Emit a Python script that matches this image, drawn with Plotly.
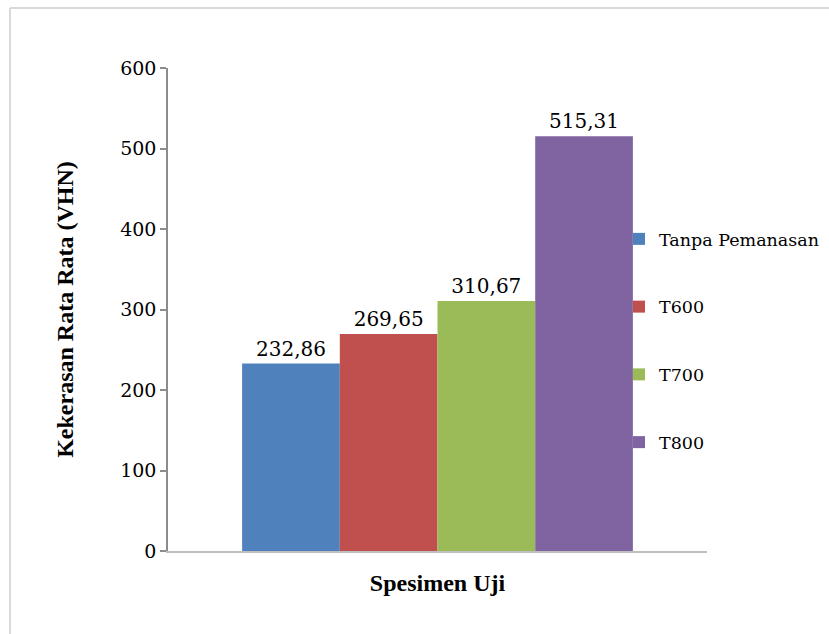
import plotly.graph_objects as go

category = ["Spesimen Uji"]
series_names = ["Tanpa Pemanasan", "T600", "T700", "T800"]
series_values = [232.86, 269.65, 310.67, 515.31]
value_labels = ["232,86", "269,65", "310,67", "515,31"]
colors = ["#4F81BD", "#C0504D", "#9BBB59", "#8064A2"]
y_ticks = [0, 100, 200, 300, 400, 500, 600]

FONT = "Liberation Serif"
FONT_REG = "DejaVu Serif"

fig = go.Figure()
for i, (name, val, lab, col) in enumerate(zip(series_names, series_values, value_labels, colors)):
    fig.add_trace(go.Bar(
        x=[" "], y=[val], name=name,
        marker=dict(color=col, line=dict(width=0)),
        text=[lab], textposition="outside", cliponaxis=False,
        textfont=dict(family=FONT_REG, size=20, color="#000000"),
        legendgroup=f"g{i}",
    ))

L, R, T, B = 168, 829 - 707, 68, 634 - 551
W, H = 829, 634
pw, ph = W - L - R, H - T - B

def px_x(px):
    return (px - L) / pw

def px_y(py):
    return (H - B - py) / ph

fig.update_layout(
    width=W, height=H,
    margin=dict(l=L, r=R, t=T, b=B, autoexpand=False),
    paper_bgcolor="white", plot_bgcolor="white",
    barmode="group", bargap=0.275, bargroupgap=0,
    font=dict(family=FONT_REG, color="#000000"),
    showlegend=True,
    legend=dict(
        x=px_x(619), y=px_y(221), xanchor="left", yanchor="top",
        font=dict(family=FONT_REG, size=17.5, color="#000000"),
        traceorder="grouped", tracegroupgap=42,
        bgcolor="rgba(0,0,0,0)", itemwidth=30,
    ),
    xaxis=dict(
        showticklabels=False, ticks="", showgrid=False,
        showline=True, linecolor="#BFBFBF", linewidth=1.5,
        title=dict(text="<b>Spesimen Uji</b>", font=dict(family=FONT, size=24), standoff=22),
        automargin=False,
    ),
    yaxis=dict(
        range=[0, 600], tickvals=y_ticks, ticktext=[str(v) for v in y_ticks],
        showgrid=False, zeroline=False,
        showline=True, linecolor="#8C8C8C", linewidth=1.5,
        ticks="outside", ticklen=6, tickcolor="#8C8C8C", tickwidth=1.5,
        tickfont=dict(family=FONT_REG, size=19, color="#000000"),
        title=dict(text="<b>Kekerasan Rata Rata (VHN)</b>", font=dict(family=FONT, size=24), standoff=40),
        automargin=False,
    ),
    shapes=[
        dict(type="line", xref="paper", yref="paper", x0=px_x(10), x1=px_x(840), y0=px_y(8), y1=px_y(8),
             line=dict(color="#D9D9D9", width=2)),
        dict(type="line", xref="paper", yref="paper", x0=px_x(10), x1=px_x(10), y0=px_y(8), y1=px_y(650),
             line=dict(color="#D9D9D9", width=2)),
    ],
)

fig.write_html("out.html")
